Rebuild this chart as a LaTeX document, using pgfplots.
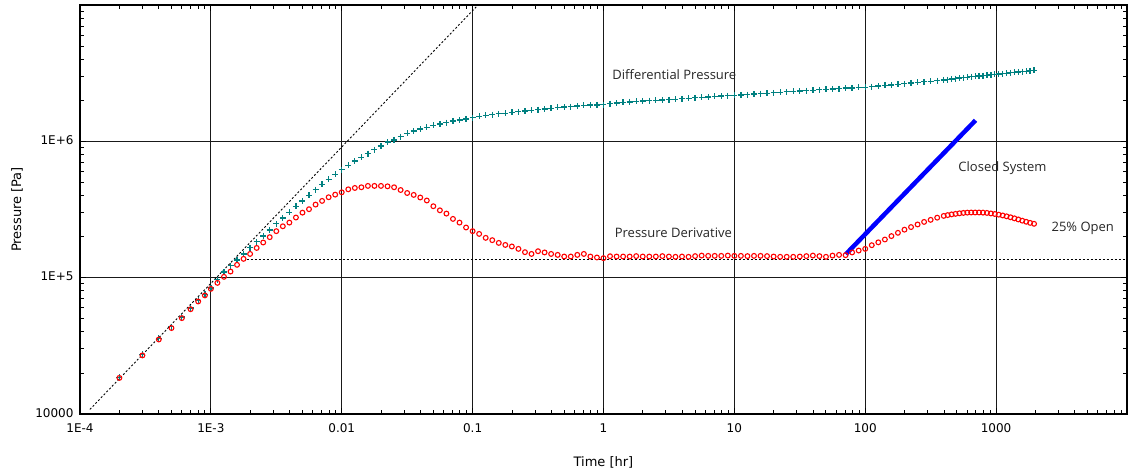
\documentclass[border=0pt]{standalone}
\usepackage{fontspec}
\setmainfont{DejaVu Sans}
\newfontfamily\annfont{Open Sans}
\usepackage{pgfplots}
\usepackage{pgfplotstable}
\pgfplotsset{compat=1.18}
\definecolor{tealc}{RGB}{0,128,128}

\pgfplotstableread{
t p
2e-4 18400
3e-4 26900
4e-4 35200
5e-4 42700
6e-4 50500
7e-4 58700
8e-4 66900
9e-4 74100
1e-3 82800
1.122e-3 91600
1.259e-3 101400
1.413e-3 110900
1.585e-3 124200
1.778e-3 137400
1.995e-3 149300
2.239e-3 165200
2.512e-3 181100
2.818e-3 198200
3.162e-3 219300
3.548e-3 238200
3.981e-3 253500
4.467e-3 276100
5.012e-3 299900
5.623e-3 317700
6.310e-3 343600
7.079e-3 365600
7.943e-3 389000
8.913e-3 406400
0.01 422700
0.01122 444600
0.01259 455000
0.01413 460300
0.01585 471000
0.01778 471000
0.01995 471000
0.02239 467700
0.02512 460300
0.02818 439500
0.03162 417800
0.03548 404600
0.03981 387300
0.04467 368100
0.05012 334200
0.05623 311900
0.06310 295100
0.07079 269800
0.07943 253500
0.08913 233300
0.1 219300
0.1122 209400
0.1259 195900
0.1413 188400
0.1585 179900
0.1778 173800
0.1995 169400
0.2239 162600
0.2512 153800
0.2818 149300
0.3162 156300
0.3548 153100
0.3981 149300
0.4467 146900
0.5012 142900
0.5623 142900
0.6310 146900
0.7079 149300
0.7943 142900
0.8913 140600
1 139000
1.122 143600
1.259 142900
1.413 142900
1.585 142900
1.778 143900
1.995 142900
2.239 142900
2.512 142900
2.818 143900
3.162 142900
3.548 142200
3.981 142900
4.467 142200
5.012 143900
5.623 145200
6.310 144500
7.079 144500
7.943 144500
8.913 145200
10 144500
11.22 144500
12.59 143900
14.13 144500
15.85 144500
17.78 143900
19.95 142900
22.39 142200
25.12 142200
28.18 142200
31.62 142900
35.48 143900
39.81 145200
44.67 143900
50.12 142200
56.23 145200
63.10 146900
70.79 146200
79.43 153100
89.13 158100
100 162600
112.2 173000
125.9 181600
141.3 190500
158.5 201800
177.8 213300
199.5 224900
223.9 235000
251.2 245500
281.8 256400
316.2 265500
354.8 275400
398.1 283800
426.6 287700
457.1 291100
489.8 293800
524.8 296500
562.3 298500
602.6 299900
645.7 300600
691.8 300600
741.3 300600
794.3 299900
851.1 298500
912.0 295800
977.2 293100
1047 289700
1122 285800
1202 281800
1288 277300
1380 272300
1479 267300
1585 261800
1698 257000
1820 252300
1950 248300
}\deriv

\pgfplotstableread{
t p
2e-4 18600
3e-4 27400
4e-4 35900
5e-4 43600
6e-4 51500
7e-4 59900
8e-4 68200
9e-4 75600
1e-3 84100
1.122e-3 96600
1.259e-3 110200
1.413e-3 122200
1.585e-3 134900
1.778e-3 149300
1.995e-3 166000
2.239e-3 183200
2.512e-3 202300
2.818e-3 223900
3.162e-3 248300
3.548e-3 273500
3.981e-3 301300
4.467e-3 332700
5.012e-3 365600
5.623e-3 401800
6.310e-3 441600
7.079e-3 483100
7.943e-3 527200
8.913e-3 571500
0.01 619400
0.01122 665300
0.01259 716100
0.01413 762100
0.01585 812800
0.01778 867000
0.01995 924700
0.02239 986300
0.02512 1023000
0.02818 1084000
0.03162 1146000
0.03548 1189000
0.03981 1230000
0.04467 1268000
0.05012 1312000
0.05623 1340000
0.06310 1371000
0.07079 1413000
0.07943 1432000
0.08913 1459000
0.1 1493000
0.1122 1528000
0.1259 1549000
0.1413 1570000
0.1585 1592000
0.1778 1603000
0.1995 1629000
0.2239 1652000
0.2512 1667000
0.2818 1687000
0.3162 1706000
0.3548 1726000
0.3981 1746000
0.4467 1778000
0.5012 1782000
0.5623 1795000
0.6310 1820000
0.7079 1837000
0.7943 1845000
0.8913 1849000
1 1862000
1.122 1888000
1.259 1910000
1.413 1928000
1.585 1945000
1.778 1963000
1.995 1977000
2.239 1991000
2.512 2004000
2.818 2014000
3.162 2023000
3.548 2037000
3.981 2051000
4.467 2070000
5.012 2084000
5.623 2104000
6.310 2118000
7.079 2133000
7.943 2148000
8.913 2163000
10 2173000
11.22 2188000
12.59 2203000
14.13 2223000
15.85 2239000
17.78 2254000
19.95 2270000
22.39 2291000
25.12 2307000
28.18 2323000
31.62 2339000
35.48 2355000
39.81 2371000
44.67 2388000
50.12 2404000
56.23 2421000
63.10 2438000
70.79 2455000
79.43 2466000
89.13 2483000
100 2495000
112.2 2518000
125.9 2541000
141.3 2570000
158.5 2594000
177.8 2624000
199.5 2649000
223.9 2679000
251.2 2704000
281.8 2735000
316.2 2761000
354.8 2793000
398.1 2818000
426.6 2838000
457.1 2864000
489.8 2884000
524.8 2911000
562.3 2931000
602.6 2951000
645.7 2979000
691.8 2999000
741.3 3020000
794.3 3034000
851.1 3055000
912.0 3076000
977.2 3097000
1047 3119000
1122 3141000
1202 3162000
1288 3184000
1380 3206000
1479 3228000
1585 3251000
1698 3266000
1820 3289000
1950 3311000
}\dpres

\begin{document}
\begin{tikzpicture}
\begin{axis}[
  at={(0,0)}, anchor=south west,
  xmode=log, ymode=log,
  scale only axis, width=1047pt, height=409pt,
  xmin=1e-4, xmax=1e4, ymin=1e4, ymax=1e7,
  xtick={1e-4,1e-3,1e-2,1e-1,1,10,100,1000,10000},
  xticklabels={1E-4,1E-3,0.01,0.1,1,10,100,1000,{}},
  ytick={1e4,1e5,1e6,1e7},
  yticklabels={10000,1E+5,1E+6,{}},
  minor xtick={2e-4,3e-4,4e-4,5e-4,6e-4,7e-4,8e-4,9e-4,2e-3,3e-3,4e-3,5e-3,6e-3,7e-3,8e-3,9e-3,0.02,0.03,0.04,0.05,0.06,0.07,0.08,0.09,0.2,0.3,0.4,0.5,0.6,0.7,0.8,0.9,2,3,4,5,6,7,8,9,20,30,40,50,60,70,80,90,200,300,400,500,600,700,800,900,2000,3000,4000,5000,6000,7000,8000,9000},
  minor ytick={2e4,3e4,4e4,5e4,6e4,7e4,8e4,9e4,2e5,3e5,4e5,5e5,6e5,7e5,8e5,9e5,2e6,3e6,4e6,5e6,6e6,7e6,8e6,9e6},
  grid=major,
  major grid style={black!90, line width=1.1pt},
  axis line style={black, line width=1.6pt},
  tick align=inside,
  tick pos=both,
  tick style={black, line width=0.9pt},
  major tick length=6pt, minor tick length=4pt,
  tick label style={font=\fontsize{12}{14}\selectfont, text=black},
  xticklabel style={yshift=-6pt},
  yticklabel style={xshift=-3pt, yshift=1pt},
  label style={font=\fontsize{13}{15}\selectfont, text=black},
  xlabel={Time [hr]}, ylabel={Pressure [Pa]},
  xlabel style={at={(axis description cs:0.5,-0.1174)}, anchor=center},
  ylabel style={at={(axis description cs:-0.0602,0.5)}, anchor=center},
  clip=true,
]
\addplot[black, line width=0.9pt, dash pattern=on 2pt off 2pt] coordinates {(1.19e-4,10800) (0.11,1.0e7)};
\addplot[black, line width=0.9pt, dash pattern=on 2pt off 2pt] coordinates {(1.88e-3,135800) (1e4,135800)};
\addplot[only marks, mark=+, mark size=3pt, mark options={draw=tealc, line width=1.3pt}] table[x=t,y=p] {\dpres};
\addplot[only marks, mark=o, mark size=2.4pt, mark options={draw=red, line width=1.1pt}] table[x=t,y=p] {\deriv};
\addplot[blue, line width=4.5pt] coordinates {(71.1,148600) (696.6,1426000)};
\node[font=\annfont\fontsize{13}{15}\selectfont, text=black!85] at (axis cs:3.48,3.10e6) {Differential Pressure};
\node[font=\annfont\fontsize{13}{15}\selectfont, text=black!85] at (axis cs:3.42,2.118e5) {Pressure Derivative};
\node[font=\annfont\fontsize{13}{15}\selectfont, text=black!85] at (axis cs:1119,6.40e5) {Closed System};
\node[font=\annfont\fontsize{13}{15}\selectfont, text=black!85] at (axis cs:4592,2.29e5) {25\% Open};
\end{axis}
\pgfresetboundingbox
\path[use as bounding box] (-80pt,-60pt) rectangle (1050pt,414pt);
\end{tikzpicture}
\end{document}
